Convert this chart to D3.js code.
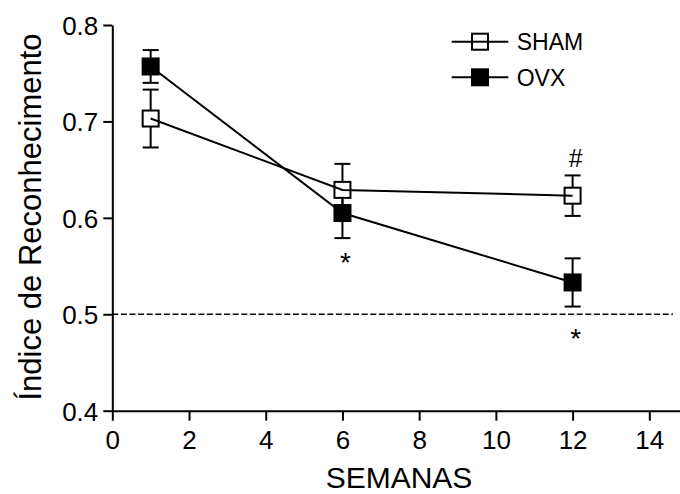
<!DOCTYPE html>
<html>
<head>
<meta charset="utf-8">
<script src="https://cdn.jsdelivr.net/npm/d3@7"></script>
<style>
  body { margin: 0; background: #fff; }
  text { font-family: "Liberation Sans", Arial, sans-serif; fill: #000; }
</style>
</head>
<body>
<div id="chart"></div>
<script>
(function() {
  const weeks = [1, 6, 12];
  const shamMean = [0.703, 0.629, 0.623];
  const shamSem = [0.030, 0.027, 0.021];
  const ovxMean = [0.757, 0.605, 0.533];
  const ovxSem = [0.017, 0.026, 0.025];
  const xTicks = [0, 2, 4, 6, 8, 10, 12, 14];
  const yTicks = [0.4, 0.5, 0.6, 0.7, 0.8];
  const chance = 0.5;
  // significance marks: week, value where the mark sits, symbol
  const marks = [
    { week: 6, value: 0.544, label: "*" },
    { week: 12, value: 0.465, label: "*" },
    { week: 12, value: 0.653, label: "#" }
  ];

  const width = 680, height = 494;
  const x = d3.scaleLinear().domain([0, 14.8]).range([112.3, 680]);
  const y = d3.scaleLinear().domain([0.4, 0.8]).range([410.7, 25]);

  const svg = d3.select("#chart").append("svg")
    .attr("width", width)
    .attr("height", height);

  const series = [
    { name: "SHAM", fill: "#fff", points: weeks.map((w, i) => ({ w, m: shamMean[i], e: shamSem[i] })) },
    { name: "OVX", fill: "#000", points: weeks.map((w, i) => ({ w, m: ovxMean[i], e: ovxSem[i] })) }
  ];

  // axes
  const xAxis = svg.append("g")
    .attr("transform", `translate(0, ${y(0.4)})`)
    .call(d3.axisBottom(x).tickValues(xTicks).tickFormat(d3.format("d")).tickSize(10).tickSizeOuter(0));
  const yAxis = svg.append("g")
    .attr("transform", `translate(${x(0)}, 0)`)
    .call(d3.axisLeft(y).tickValues(yTicks).tickFormat(d3.format(".1f")).tickSize(9).tickSizeOuter(0));

  [xAxis, yAxis].forEach(g => {
    g.select(".domain").attr("stroke", "#000").attr("stroke-width", 2);
    g.selectAll(".tick line").attr("stroke", "#000").attr("stroke-width", 2);
    g.selectAll(".tick text").style("font-size", "26px").attr("fill", "#000")
      .style("font-family", '"Liberation Sans", Arial, sans-serif');
  });
  xAxis.selectAll(".tick text").attr("y", 20).attr("dy", "0.71em");
  yAxis.selectAll(".tick text").attr("x", -14).attr("dy", "0.36em");

  svg.append("text")
    .attr("x", 399)
    .attr("y", 488)
    .attr("text-anchor", "middle")
    .style("font-size", "30px")
    .text("SEMANAS");

  svg.append("text")
    .attr("transform", "translate(41, 217) rotate(-90)")
    .attr("text-anchor", "middle")
    .style("font-size", "31px")
    .text("Índice de Reconhecimento");

  // chance level
  svg.append("line")
    .attr("x1", x(0)).attr("x2", 673)
    .attr("y1", y(chance)).attr("y2", y(chance))
    .attr("stroke", "#000")
    .attr("stroke-width", 1.6)
    .attr("stroke-dasharray", "6,2.6");

  const box = 16, cap = 16;

  // error bars
  series.forEach(s => {
    const g = svg.append("g").attr("stroke", "#000").attr("stroke-width", 2);
    s.points.forEach(p => {
      g.append("line").attr("x1", x(p.w)).attr("x2", x(p.w))
        .attr("y1", y(p.m + p.e)).attr("y2", y(p.m - p.e));
      [p.m + p.e, p.m - p.e].forEach(v => {
        g.append("line").attr("x1", x(p.w) - cap / 2).attr("x2", x(p.w) + cap / 2)
          .attr("y1", y(v)).attr("y2", y(v));
      });
    });
  });

  // markers
  series.forEach(s => {
    svg.append("g").selectAll("rect")
      .data(s.points)
      .enter().append("rect")
        .attr("x", d => x(d.w) - box / 2)
        .attr("y", d => y(d.m) - box / 2)
        .attr("width", box)
        .attr("height", box)
        .attr("fill", s.fill)
        .attr("stroke", "#000")
        .attr("stroke-width", 2);
  });

  // connecting lines
  const line = d3.line().x(d => x(d.w)).y(d => y(d.m));
  series.forEach(s => {
    svg.append("path")
      .datum(s.points)
      .attr("d", line)
      .attr("fill", "none")
      .attr("stroke", "#000")
      .attr("stroke-width", 2);
  });

  // significance marks
  svg.selectAll(".mark")
    .data(marks)
    .enter().append("text")
      .attr("class", "mark")
      .attr("x", d => x(d.week) + 3)
      .attr("y", d => y(d.value))
      .attr("text-anchor", "middle")
      .style("font-size", d => d.label === "#" ? "25px" : "28px")
      .text(d => d.label);

  // legend
  const legend = svg.selectAll(".legend")
    .data(series)
    .enter().append("g")
      .attr("class", "legend")
      .attr("transform", (d, i) => `translate(480, ${41.7 + i * 35.6})`);

  legend.append("line")
    .attr("x1", -28.3).attr("x2", 28.3)
    .attr("stroke", "#000").attr("stroke-width", 2);

  legend.append("rect")
    .attr("x", -box / 2).attr("y", -box / 2)
    .attr("width", box).attr("height", box)
    .attr("fill", d => d.fill)
    .attr("stroke", "#000").attr("stroke-width", 2);

  legend.filter(d => d.fill === "#fff").append("line")
    .attr("x1", -box / 2).attr("x2", box / 2)
    .attr("stroke", "#000").attr("stroke-width", 2);

  legend.append("text")
    .attr("x", 36.7)
    .attr("y", 8.5)
    .style("font-size", "23px")
    .text(d => d.name);
})();
</script>
</body>
</html>
